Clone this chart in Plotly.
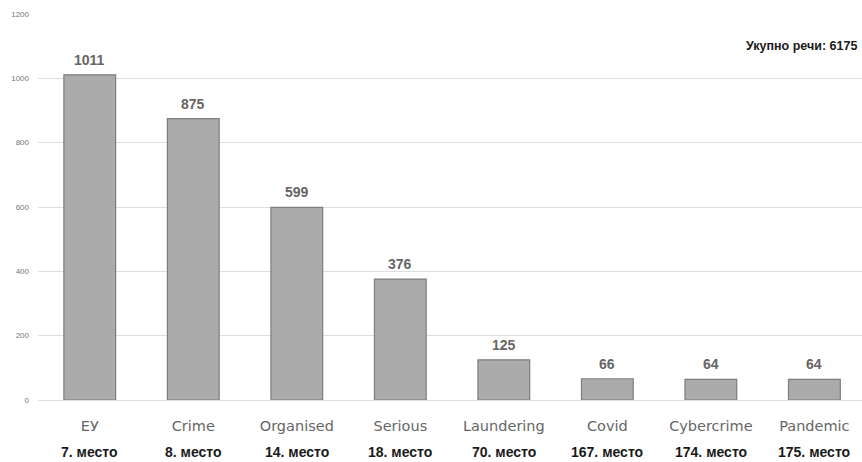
import plotly.graph_objects as go

# Word frequencies
words = ["ЕУ", "Crime", "Organised", "Serious", "Laundering", "Covid", "Cybercrime", "Pandemic"]
counts = [1011, 875, 599, 376, 125, 66, 64, 64]
ranks = ["7. место", "8. место", "14. место", "18. место", "70. место", "167. место", "174. место", "175. место"]
total_words = 6175
y_ticks = [0, 200, 400, 600, 800, 1000, 1200]

fig = go.Figure()
fig.add_trace(go.Bar(
    x=words,
    y=counts,
    marker=dict(color="#ababab", line=dict(color="#7d7d7d", width=1.2)),
    hoverinfo="x+y",
))

# Value labels above the bars
for w, c in zip(words, counts):
    fig.add_annotation(
        x=w, xref="x", y=c, yref="y", yanchor="bottom", yshift=5,
        text=f"<b>{c}</b>", showarrow=False,
        font=dict(family="Liberation Sans, Arial, sans-serif", size=14, color="#666666"),
    )

# Rank row under the category labels
for w, r in zip(words, ranks):
    fig.add_annotation(
        x=w, xref="x", y=0, yref="paper", yshift=-62,
        text=f"<b>{r}</b>", showarrow=False,
        font=dict(family="Liberation Sans, Arial, sans-serif", size=14, color="#1a1a1a"),
    )

fig.add_annotation(
    x=1.0, xref="paper", y=1000 + 100, yref="y", xanchor="right", xshift=-3,
    text=f"<b>Укупно речи: {total_words}</b>", showarrow=False,
    font=dict(family="Liberation Sans, Arial, sans-serif", size=12.5, color="#1a1a1a"),
)

fig.update_layout(
    width=862, height=462,
    margin=dict(l=38, r=0, t=14, b=62),
    plot_bgcolor="white", paper_bgcolor="white",
    bargap=0.5,
    showlegend=False,
    font=dict(family="DejaVu Sans, Verdana, sans-serif"),
)
fig.update_xaxes(
    range=[-0.5, 7.46],
    showgrid=False, showline=False, zeroline=False,
    tickfont=dict(family="DejaVu Sans, Verdana, sans-serif", size=14.5, color="#666666"),
    ticks="", ticklabelstandoff=15,
)
fig.update_yaxes(
    range=[0, 1200], tickvals=y_ticks, ticktext=[str(v) for v in y_ticks],
    showgrid=True, gridcolor="#dedede", gridwidth=1,
    zeroline=True, zerolinecolor="#dedede", zerolinewidth=1,
    showline=False, ticks="",
    tickfont=dict(family="Liberation Sans, Arial, sans-serif", size=8, color="#777777"),
    ticklabelstandoff=8,
)

fig.write_html("out.html")
